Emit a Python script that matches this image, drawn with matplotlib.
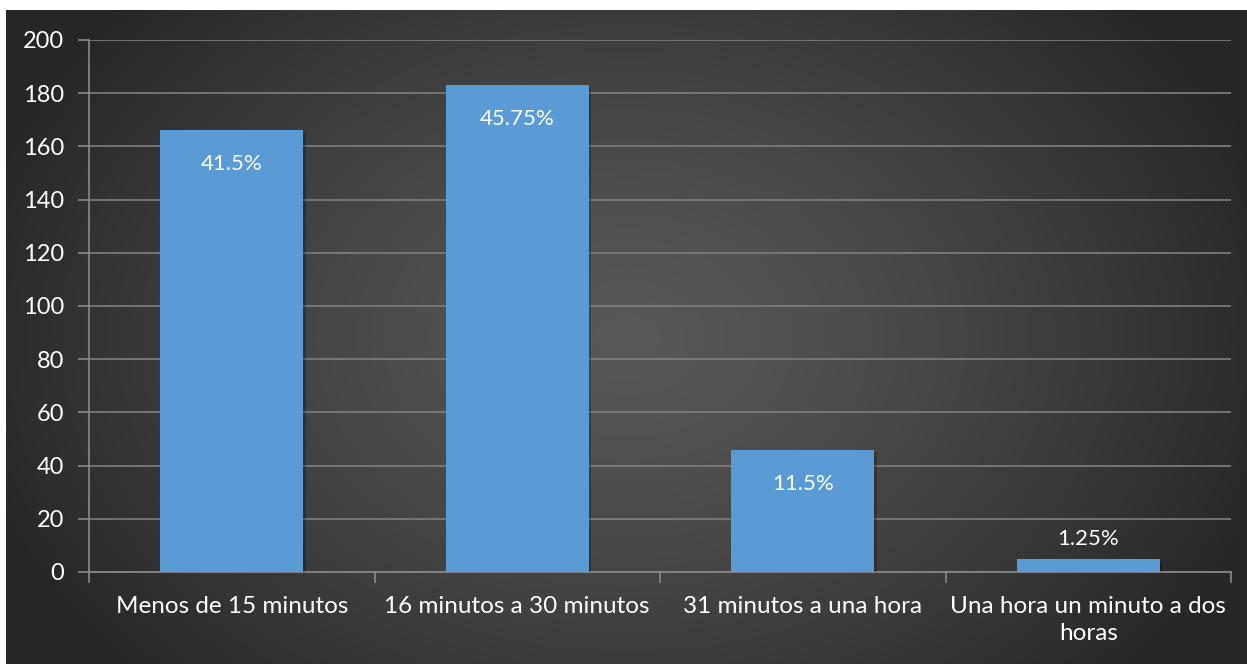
import numpy as np
import matplotlib
matplotlib.use("Agg")
import matplotlib.pyplot as plt
import matplotlib.patheffects as pe

plt.rcParams['font.family'] = ['Lato', 'DejaVu Sans']

# datos
categorias = ['Menos de 15 minutos', '16 minutos a 30 minutos',
              '31 minutos a una hora', 'Una hora un minuto a dos\nhoras']
valores = [166, 183, 46, 5]
etiquetas = ['41.5%', '45.75%', '11.5%', '1.25%']
yticks = [0, 20, 40, 60, 80, 100, 120, 140, 160, 180, 200]

W, H = 1247, 664
fig = plt.figure(figsize=(W / 100, H / 100), dpi=100, facecolor='white')

# fondo oscuro con degradado radial
bg = fig.add_axes([6 / W, 0, 1 - 6 / W, (H - 10) / H])
bg.set_axis_off()
yy, xx = np.mgrid[0:300, 0:600]
cx, cy = 300, 150
r = np.sqrt(((xx - cx) / 330.0) ** 2 + ((yy - cy) / 230.0) ** 2)
r = np.clip(r, 0, 1)
g = 0.345 - (0.345 - 0.15) * r ** 1.3
img = np.dstack([g, g, g])
bg.imshow(img, aspect='auto', extent=[0, 1, 0, 1], interpolation='bilinear')
bg.set_xlim(0, 1)
bg.set_ylim(0, 1)

# gráfico principal
ax = fig.add_axes([89 / W, (H - 572) / H, (1231 - 89) / W, (572 - 40) / H])
ax.patch.set_alpha(0)

x = np.arange(len(categorias))
barras = ax.bar(x, valores, width=0.5, color='#5B9BD5', zorder=3)
for b in barras:
    b.set_path_effects([pe.SimplePatchShadow(offset=(2, -2), shadow_rgbFace='black', alpha=0.25), pe.Normal()])

ax.set_xlim(-0.5, len(categorias) - 0.5)
ax.set_ylim(0, 200)
ax.set_yticks(yticks)
ax.set_yticklabels([str(v) for v in yticks])
ax.yaxis.grid(True, color='#7f7f7f', linewidth=1.2, zorder=0)
ax.set_axisbelow(True)

ax.set_xticks(x)
ax.set_xticklabels(categorias, multialignment='center', linespacing=1.4)
ax.set_xticks(np.arange(-0.5, len(categorias)), minor=True)
ax.tick_params(axis='x', which='major', length=0, pad=17, labelsize=17.5, labelcolor='white')
ax.tick_params(axis='x', which='minor', length=8, color='#8a8a8a', width=1.2)
ax.tick_params(axis='y', length=8, color='#8a8a8a', width=1.2, pad=10, labelsize=17, labelcolor='white')

for s in ['top', 'right']:
    ax.spines[s].set_visible(False)
for s in ['left', 'bottom']:
    ax.spines[s].set_color('#8a8a8a')
    ax.spines[s].set_linewidth(1.2)

# etiquetas de datos
for xi, v, t in zip(x, valores, etiquetas):
    if v > 20:
        ax.annotate(t, (xi, v), xytext=(0, -34), textcoords='offset pixels',
                    ha='center', va='center', color='white', fontsize=16, zorder=5)
    else:
        ax.annotate(t, (xi, v), xytext=(0, 20), textcoords='offset pixels',
                    ha='center', va='center', color='white', fontsize=16, zorder=5)

fig.savefig('out.png', dpi=100, facecolor='white')
